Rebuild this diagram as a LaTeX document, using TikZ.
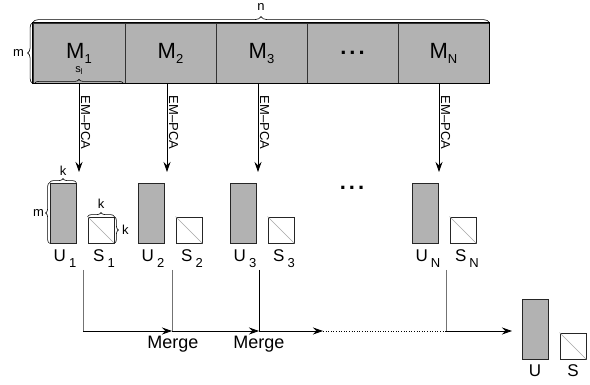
\documentclass[tikz,border=0pt]{standalone}
\usepackage{fontspec}
\setmainfont{Liberation Sans}
\usetikzlibrary{arrows.meta,decorations.pathreplacing}

% font size helper
\newcommand\fs[1]{\fontsize{#1}{#1}\selectfont}
% block label with a lowered index: {size}{letter}{index}{gap}{drop}
\newcommand\blk[5]{{\fs{#1}#2}\hspace{#4}\raisebox{-#5}{\fs{13}#3}}

\begin{document}
\begin{tikzpicture}[x=1pt,y=-1pt,
  cell/.style={draw=black!80,line width=0.8pt,fill=black!30,minimum height=60pt,inner sep=0pt},
  ubox/.style={draw=black!85,line width=0.8pt,fill=black!30,minimum width=26pt,minimum height=60pt,inner sep=0pt},
  sbox/.style={draw=black!85,line width=0.8pt,fill=white,minimum width=26pt,minimum height=26pt,inner sep=0pt},
  brc/.style={decorate,decoration={brace,amplitude=#1},line width=0.6pt},
  dimlab/.style={font=\fs{13},inner sep=0pt},
  pca/.style={-{Stealth[length=10pt,width=7pt]},line width=0.8pt},
  pcalab/.style={rotate=-90,anchor=south,inner sep=1.5pt,font=\fs{13},pos=0.44},
  mline/.style={line width=0.8pt,draw=black!55},
  marrow/.style={-{Stealth[length=10pt,width=7pt]},line width=0.8pt},
  mergelab/.style={font=\fs{18},inner sep=0pt},
  sublab/.style={inner sep=0pt},
  diag/.style={draw=black!35,line width=0.6pt}]
\useasboundingbox (0,0) rectangle (590,385);

% ---- partitioned data matrix ----
\node[cell,minimum width=92pt] (m1) at (79,53)    {\blk{22}{M}{1}{0pt}{5pt}};
\node[cell,minimum width=91pt] (m2) at (170.5,53) {\blk{22}{M}{2}{0pt}{5pt}};
\node[cell,minimum width=91pt] (m3) at (261.5,53) {\blk{22}{M}{3}{0pt}{5pt}};
\node[cell,minimum width=91pt] (md) at (352.5,53) {\fs{22}\textbf{.\hspace{3pt}.\hspace{3pt}.}};
\node[cell,minimum width=91pt] (mN) at (443.5,53) {\blk{22}{M}{N}{0pt}{5pt}};
\draw[line width=0.9pt] (m1.north west) rectangle (mN.south east);

% dimensions of the matrix
\draw[brc=6pt] (m1.north west) -- (mN.north east)
  node[dimlab,midway,yshift=16pt] (nlab) {n};
\draw[brc=5pt] (m1.south west) -- (m1.north west)
  node[dimlab,midway,xshift=-14pt] (mlab) {m};
\draw[brc=4pt] ([xshift=2pt]m1.south west) -- ([xshift=-2pt]m1.south east)
  node[inner sep=0pt,midway,yshift=13pt] (slab) {{\fs{11}s}\raisebox{-2pt}{\fs{8}l}};

% ---- EM-PCA on each block ----
\coordinate (t1) at (79,172);
\coordinate (t2) at (167,172);
\coordinate (t3) at (258,172);
\coordinate (tN) at (439,172);
\draw[pca] (m1.south -| t1) -- node[pcalab] {EM--PCA} (t1);
\draw[pca] (m2.south -| t2) -- node[pcalab] {EM--PCA} (t2);
\draw[pca] (m3.south -| t3) -- node[pcalab] {EM--PCA} (t3);
\draw[pca] (mN.south -| tN) -- node[pcalab] {EM--PCA} (tN);

% ---- per-block factors ----
\node[ubox] (u1) at (63,213)  {};
\node[ubox] (u2) at (151,213) {};
\node[ubox] (u3) at (243,213) {};
\node[ubox] (uN) at (425,213) {};
\node[sbox] (s1) at (101,230) {};
\node[sbox] (s2) at (189,230) {};
\node[sbox] (s3) at (281,230) {};
\node[sbox] (sN) at (463,230) {};
\foreach \s in {s1,s2,s3,sN}
  \draw[diag] (\s.north west) -- (\s.south east);
\node[inner sep=0pt] (bdots) at (352,188) {\fs{22}\textbf{.\hspace{3pt}.\hspace{3pt}.}};

% dimensions of U_1 and S_1
\draw[brc=4pt] (u1.north west) -- (u1.north east)
  node[dimlab,midway,yshift=12pt] (k1) {k};
\draw[brc=4pt] (u1.south west) -- (u1.north west)
  node[dimlab,midway,xshift=-11pt] (m1lab) {m};
\draw[brc=4pt] (s1.north west) -- (s1.north east)
  node[dimlab,midway,yshift=13pt] (k2) {k};
\draw[brc=4pt] (s1.north east) -- (s1.south east)
  node[dimlab,midway,xshift=11pt] (k3) {k};

% labels under the factors
\node[sublab] (lu1) at (65,259)  {\blk{17}{U}{1}{3pt}{6pt}};
\node[sublab] (ls1) at (104,259) {\blk{17}{S}{1}{3pt}{6pt}};
\node[sublab] (lu2) at (153,259) {\blk{17}{U}{2}{3pt}{6pt}};
\node[sublab] (ls2) at (192,259) {\blk{17}{S}{2}{3pt}{6pt}};
\node[sublab] (lu3) at (245,259) {\blk{17}{U}{3}{3pt}{6pt}};
\node[sublab] (ls3) at (284,259) {\blk{17}{S}{3}{3pt}{6pt}};
\node[sublab] (luN) at (428,259) {\blk{17}{U}{N}{3pt}{6pt}};
\node[sublab] (lsN) at (467,259) {\blk{17}{S}{N}{3pt}{6pt}};

% ---- merging chain ----
\coordinate (c1) at (83,270);
\coordinate (c2) at (172,270);
\coordinate (c3) at (259,270);
\coordinate (cN) at (446,270);
\coordinate (j1) at (83,331);
\coordinate (j2) at (172,331);
\coordinate (j3) at (259,331);
\coordinate (d0) at (323,331);
\coordinate (jN) at (446,331);
\coordinate (e0) at (512,331);
\draw[mline] (c1) -- (j1);
\draw[mline] (c2) -- (j2);
\draw[line width=0.8pt] (c3) -- (j3);
\draw[mline] (cN) -- (jN);
\draw[marrow] (j1) -- (j2);
\draw[marrow] (j2) -- (j3);
\draw[marrow] (j3) -- (d0);
\draw[dotted,line width=0.6pt] (d0) -- (jN);
\draw[marrow] (jN) -- (e0);
\node[mergelab] (mg1) at (173,344) {Merge};
\node[mergelab] (mg2) at (259,344) {Merge};

% ---- merged result ----
\node[ubox] (uf) at (535,329) {};
\node[sbox] (sf) at (573,346) {};
\draw[diag] (sf.north west) -- (sf.south east);
\node[sublab] (luf) at (535,371) {\fs{17}U};
\node[sublab] (lsf) at (573,371) {\fs{17}S};
\end{tikzpicture}
\end{document}
